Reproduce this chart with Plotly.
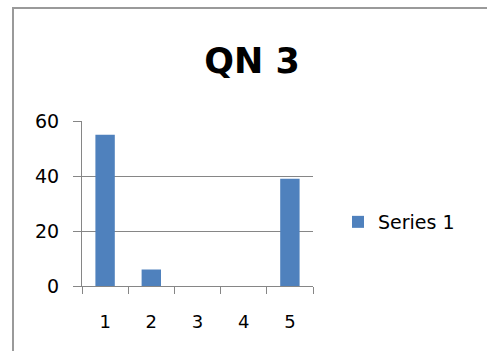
import plotly.graph_objects as go

# Chart data
categories = ["1", "2", "3", "4", "5"]
series_1 = [55, 6, 0, 0, 39]
y_ticks = [0, 20, 40, 60]

W, H = 487, 351
L, R, T, B = 82, 174, 121, 65
pw = W - L - R
ph = H - T - B

def px_x(x):
    return (x - L) / pw

def px_y(y):
    return (H - B - y) / ph

FONT = "DejaVu Sans"
BAR = "#4F81BD"
GRID = "#868686"

fig = go.Figure()
fig.add_trace(go.Bar(
    x=categories, y=series_1, name="Series 1",
    marker=dict(color=BAR, line=dict(width=0)),
))

fig.update_layout(
    width=W, height=H,
    margin=dict(l=L, r=R, t=T, b=B, pad=0),
    paper_bgcolor="white", plot_bgcolor="white",
    bargap=0.58,
    showlegend=True,
    title=dict(text="<b>QN 3</b>", x=px_x(252), xref="paper", xanchor="center",
               y=1 - 61 / H, yanchor="middle",
               font=dict(family=FONT, size=35, color="#000000")),
    legend=dict(x=px_x(338), xanchor="left", y=px_y(222), yanchor="middle",
                font=dict(family=FONT, size=19, color="#000000"),
                bgcolor="rgba(0,0,0,0)", itemwidth=30),
    xaxis=dict(type="category", tickson="boundaries", ticks="outside", ticklen=7,
               tickcolor=GRID, tickwidth=1, showgrid=False, showline=True,
               linecolor=GRID, linewidth=1, ticklabelstandoff=19,
               tickfont=dict(family=FONT, size=18, color="#000000")),
    yaxis=dict(range=[0, 60], tickmode="array", tickvals=y_ticks, ticks="outside",
               ticklen=8, tickcolor=GRID, showgrid=True, gridcolor=GRID, gridwidth=1,
               showline=True, linecolor=GRID, linewidth=1, zeroline=False,
               ticklabelstandoff=10,
               tickfont=dict(family=FONT, size=19, color="#000000")),
    shapes=[dict(type="rect", xref="paper", yref="paper",
                 x0=px_x(13), x1=px_x(W + 20), y0=px_y(H + 20), y1=px_y(8),
                 line=dict(color="#9a9a9a", width=2), fillcolor="rgba(0,0,0,0)",
                 layer="below")],
)

fig.write_html("out.html")
